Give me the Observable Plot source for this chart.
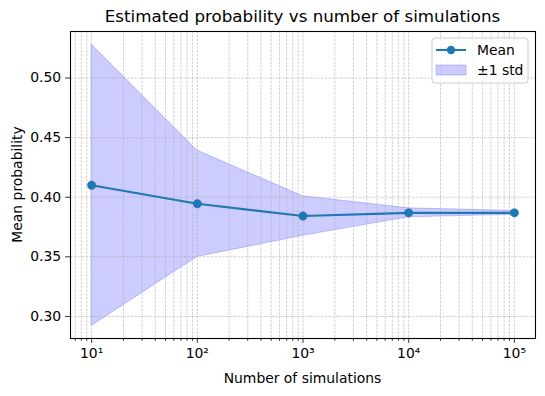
<!DOCTYPE html>
<html>
<head>
<meta charset="utf-8">
<script src="https://cdn.jsdelivr.net/npm/d3@7"></script>
<script src="https://cdn.jsdelivr.net/npm/@observablehq/plot@0.6"></script>
<style>
  html, body { margin: 0; padding: 0; background: white; }
  #chart svg { display: block; }
</style>
</head>
<body>
<div id="chart"></div>
<script>
// Data
const simulations = [10, 100, 1000, 10000, 100000];
const meanProb = [0.410, 0.3945, 0.3842, 0.3869, 0.3869];
const stdProb = [0.118, 0.0446, 0.0166, 0.0038, 0.0016];
const xMajorTicks = [10, 100, 1000, 10000, 100000];
const yTicks = [0.30, 0.35, 0.40, 0.45, 0.50];

const titleText = "Estimated probability vs number of simulations";
const xLabel = "Number of simulations";
const yLabel = "Mean probability";
const legendLabels = ["Mean", "\u00b11 std"];

const data = simulations.map((n, i) => ({
  n, mean: meanProb[i], lo: meanProb[i] - stdProb[i], hi: meanProb[i] + stdProb[i]
}));

const xDomain = [Math.pow(10, 0.8), Math.pow(10, 5.2)];
const xMinorTicks = [];
for (let d = 0; d <= 5; d++) {
  for (let k = 2; k <= 9; k++) {
    const v = k * Math.pow(10, d);
    if (v >= xDomain[0] && v <= xDomain[1]) xMinorTicks.push(v);
  }
}
const sup = {"0":"\u2070","1":"\u00b9","2":"\u00b2","3":"\u00b3","4":"\u2074","5":"\u2075","6":"\u2076","7":"\u2077","8":"\u2078","9":"\u2079"};
const fmtPow = v => "10" + String(Math.round(Math.log10(v))).split("").map(c => sup[c]).join("");

const W = 545, H = 396;
const mL = 70, mR = 10, mT = 31, mB = 58;
const font = "DejaVu Sans, sans-serif";
const gridStyle = {stroke: "#b0b0b0", strokeOpacity: 0.85, strokeWidth: 0.7, strokeDasharray: "2.6,1.2"};
const blue = "#1f77b4";

const svg = Plot.plot({
  width: W, height: H,
  marginLeft: mL, marginRight: mR, marginTop: mT, marginBottom: mB,
  style: {fontFamily: font, fontSize: "13.9px", color: "black", background: "white", overflow: "visible"},
  x: {type: "log", domain: xDomain},
  y: {domain: [0.2815, 0.539]},
  marks: [
    Plot.areaY(data, {x: "n", y1: "lo", y2: "hi", fill: "blue", fillOpacity: 0.2, stroke: "blue", strokeOpacity: 0.2, strokeWidth: 1}),
    Plot.ruleX(xMajorTicks.concat(xMinorTicks), gridStyle),
    Plot.ruleY(yTicks, gridStyle),
    Plot.line(data, {x: "n", y: "mean", stroke: blue, strokeWidth: 2.1}),
    Plot.dot(data, {x: "n", y: "mean", r: 4.2, fill: blue, stroke: blue, strokeWidth: 0.5}),
    Plot.axisX({ticks: xMinorTicks, tickSize: 2.8, tickFormat: () => "", label: null, strokeWidth: 0.8}),
    Plot.axisX({ticks: xMajorTicks, tickSize: 4.9, tickPadding: 4.5, tickFormat: fmtPow, label: null, strokeWidth: 0.8, fontSize: 13.9}),
    Plot.axisY({ticks: yTicks, tickSize: 4.9, tickPadding: 4.5, tickFormat: d3.format(".2f"), label: null, strokeWidth: 0.8, fontSize: 13.9}),
    Plot.frame({stroke: "black", strokeWidth: 1.1})
  ]
});

document.getElementById("chart").appendChild(svg);

const s = d3.select(svg);
const plotCx = mL + (W - mL - mR) / 2;
const plotCy = mT + (H - mT - mB) / 2;

s.append("text").attr("x", plotCx).attr("y", 22).attr("text-anchor", "middle")
  .attr("font-family", font).attr("font-size", "16.7px").attr("fill", "black").text(titleText);
s.append("text").attr("x", plotCx).attr("y", 383).attr("text-anchor", "middle")
  .attr("font-family", font).attr("font-size", "13.9px").attr("fill", "black").text(xLabel);
s.append("text").attr("transform", `translate(22,${plotCy}) rotate(-90)`).attr("text-anchor", "middle")
  .attr("font-family", font).attr("font-size", "13.9px").attr("fill", "black").text(yLabel);

// Legend
const lg = s.append("g").attr("text-anchor", "start");
const bx = 432, by = 38, bw = 96, bh = 45;
lg.append("rect").attr("x", bx).attr("y", by).attr("width", bw).attr("height", bh).attr("rx", 3)
  .attr("fill", "white").attr("fill-opacity", 0.8).attr("stroke", "#cccccc").attr("stroke-width", 1);
lg.append("line").attr("x1", bx + 4).attr("x2", bx + 34).attr("y1", by + 12).attr("y2", by + 12)
  .attr("stroke", blue).attr("stroke-width", 2.1);
lg.append("circle").attr("cx", bx + 19).attr("cy", by + 12).attr("r", 4.2).attr("fill", blue);
lg.append("text").attr("x", bx + 45).attr("y", by + 12).attr("dy", "0.36em").attr("text-anchor", "start")
  .attr("font-family", font).attr("font-size", "13.9px").attr("fill", "black").text(legendLabels[0]);
lg.append("rect").attr("x", bx + 4).attr("y", by + 27).attr("width", 30).attr("height", 10)
  .attr("fill", "blue").attr("fill-opacity", 0.2).attr("stroke", "blue").attr("stroke-opacity", 0.2);
lg.append("text").attr("x", bx + 45).attr("y", by + 32).attr("dy", "0.36em").attr("text-anchor", "start")
  .attr("font-family", font).attr("font-size", "13.9px").attr("fill", "black").text(legendLabels[1]);
</script>
</body>
</html>
